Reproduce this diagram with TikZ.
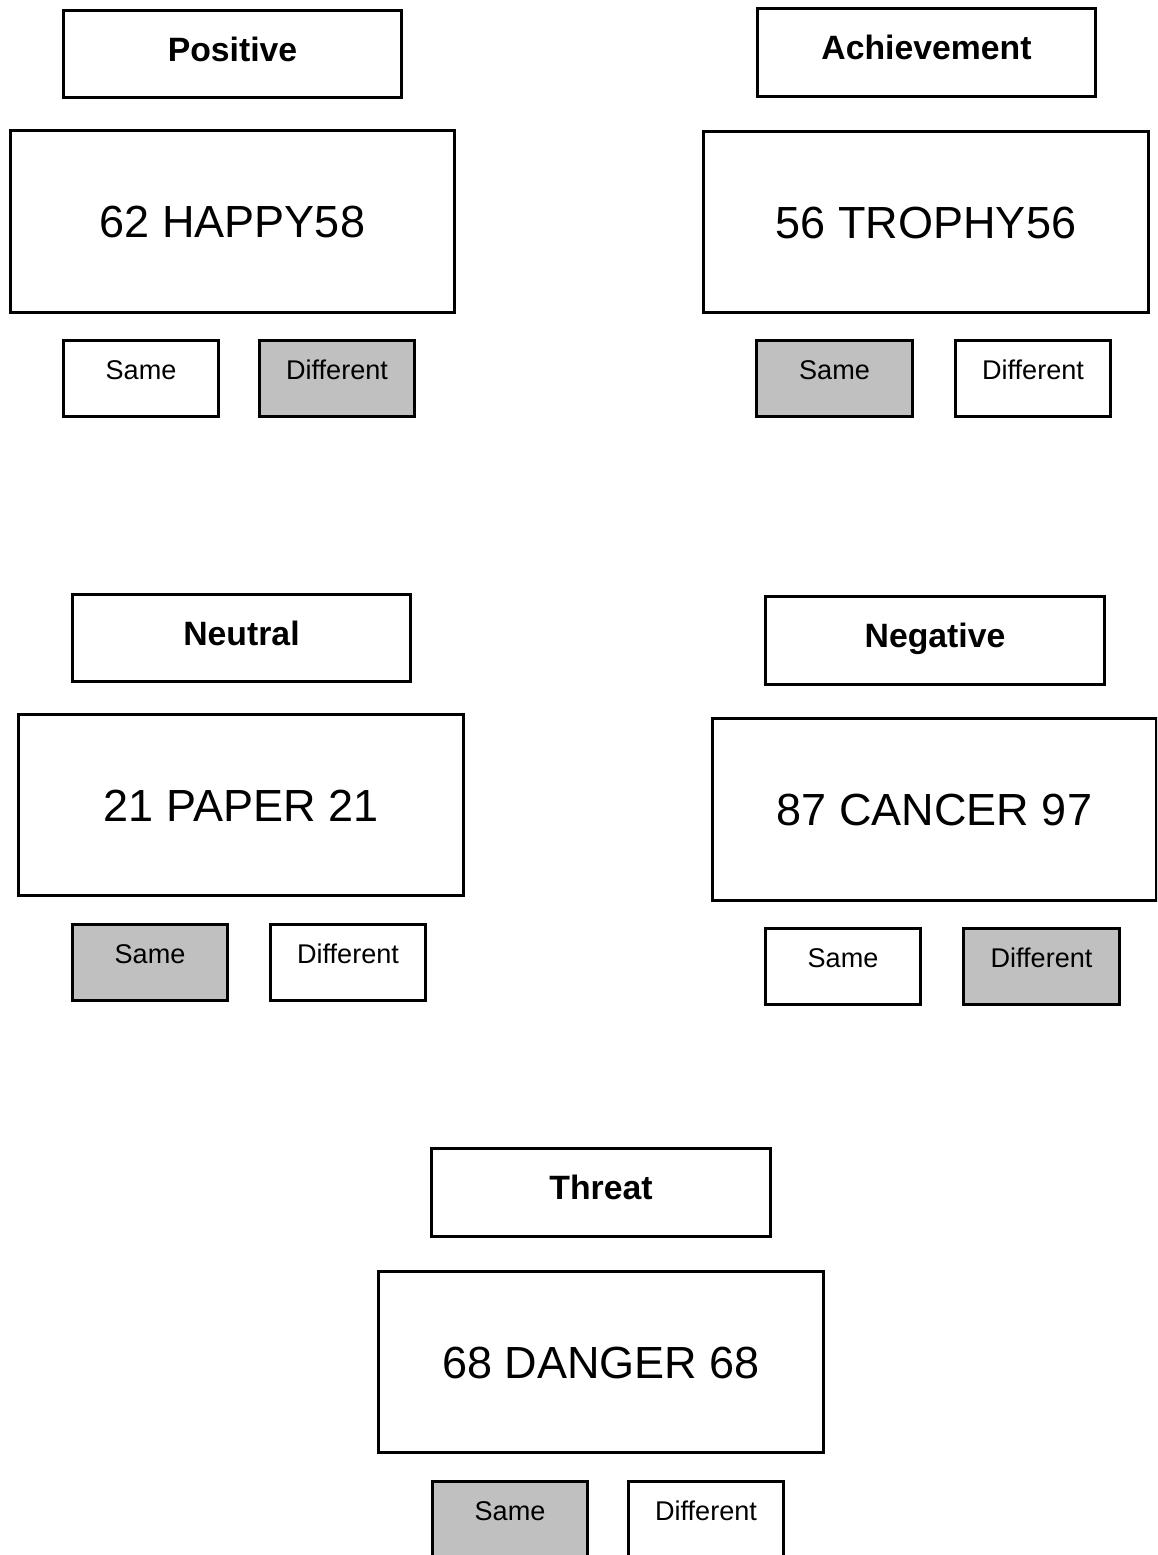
\documentclass[tikz,border=0pt]{standalone}
\usepackage{fontspec}
\setmainfont{Liberation Sans}
\usetikzlibrary{positioning}
\definecolor{answergray}{RGB}{192,192,192}
\newcommand{\boxline}{.85pt}

\begin{document}
\begin{tikzpicture}[x=.01cm,y=-.01cm,
    cat/.style={draw, line width=\boxline, minimum width=3.38cm, minimum height=.87cm, inner sep=0pt,
      font=\fontsize{9.6}{11}\selectfont\bfseries, text height=6.9pt, text depth=2.8pt},
    word/.style={draw, line width=\boxline, minimum width=4.44cm, minimum height=1.81cm, inner sep=0pt,
      font=\fontsize{12.8}{15}\selectfont, text height=9.2pt, text depth=0pt},
    resp/.style={draw, line width=\boxline, minimum width=1.55cm, minimum height=.76cm, inner sep=0pt,
      font=\fontsize{7.7}{9}\selectfont, text height=5.5pt, text depth=5.1pt},
    chosen/.style={resp, fill=answergray}]
      \useasboundingbox (0,0) rectangle (1157,1555);
      \clip (0,0) rectangle (1157,1555);

      % positive
      \node (pos) at (232.5,54) [cat] {Positive};
      \node (poswd) at (232.5,221.5) [word] {62 HAPPY58};
      \node (possm) at (141,378.5) [resp] {Same};
      \node (posdf) at (337,378.5) [chosen] {Different};

      % achievement
      \node (ach) at (926.5,52.5) [cat] {Achievement};
      \node (achwd) at (926,222) [word] {56 TROPHY56};
      \node (achsm) at (834.5,378.5) [chosen] {Same};
      \node (achdf) at (1033,378.5) [resp] {Different};

      % neutral
      \node (neu) at (241.5,638) [cat] {Neutral};
      \node (neuwd) at (241,805) [word] {21 PAPER 21};
      \node (neusm) at (150,962.5) [chosen] {Same};
      \node (neudf) at (348,962.5) [resp] {Different};

      % negative
      \node (neg) at (935,640.5) [cat] {Negative};
      \node (negwd) at (934.5,809.5) [word] {87 CANCER 97};
      \node (negsm) at (843,966.5) [resp] {Same};
      \node (negdf) at (1041.5,966.5) [chosen] {Different};

      % threat
      \node (thr) at (601,1192.5) [cat] {Threat};
      \node (thrwd) at (601,1362) [word] {68 DANGER 68};
      \node (thrsm) at (510,1519.5) [chosen] {Same};
      \node (thrdf) at (706,1519.5) [resp] {Different};
\end{tikzpicture}
\end{document}
